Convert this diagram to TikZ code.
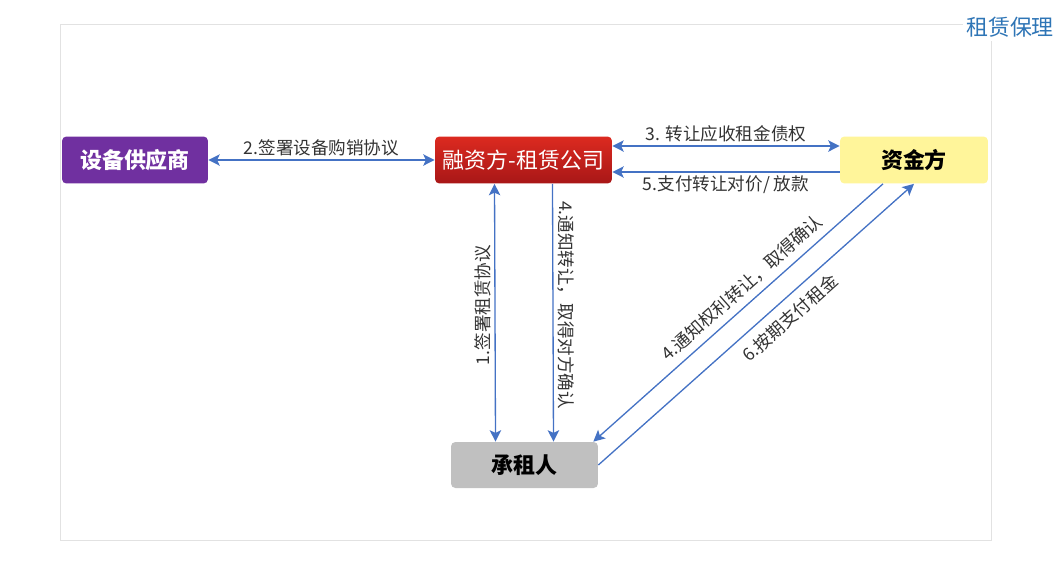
\documentclass[tikz,border=0pt]{standalone}
\usepackage{fontspec}
\setmainfont{Noto Sans CJK SC}
\usetikzlibrary{arrows.meta}

\definecolor{supplierfill}{HTML}{7030A0}
\definecolor{lessortop}{HTML}{DC2A20}
\definecolor{lessorbottom}{HTML}{A81717}
\definecolor{fundfill}{HTML}{FFF59A}
\definecolor{lesseefill}{HTML}{C0C0C0}
\definecolor{linkblue}{HTML}{4472C4}
\definecolor{titleblue}{HTML}{2E75B6}
\definecolor{framegray}{HTML}{E2E2E2}

\tikzset{
  >={Stealth[length=6.5pt,width=6.5pt,inset=1.5pt]},
  box/.style={rounded corners=2.5pt, inner sep=0pt, minimum height=0.94cm,
    font=\fontsize{12.5}{14}\selectfont},
  link/.style={draw=linkblue, line width=0.75pt, ->},
  lbl/.style={font=\fontsize{10}{12}\selectfont, text=black!80, inner sep=2pt}
}

\begin{document}
\begin{tikzpicture}[x=0.02cm, y=-0.02cm]
\useasboundingbox (0,0) rectangle (1059,565);
% frame and title
\draw[framegray, line width=0.5pt] (60,24) rectangle (991,540);
\node[fill=white, text=titleblue, inner sep=2pt, font=\fontsize{12.5}{14}\selectfont] (title) at (1010,27) {租赁保理};

% parties
\node[box, fill=supplierfill, text=white, minimum width=2.92cm, font=\fontsize{12.5}{14}\selectfont\bfseries] (supplier) at (135,160) {设备供应商};
\node[box, top color=lessortop, bottom color=lessorbottom, text=white, minimum width=3.54cm] (lessor) at (523.5,160) {融资方-租赁公司};
\node[box, fill=fundfill, minimum width=2.96cm, font=\fontsize{12.5}{14}\selectfont\bfseries] (fund) at (914,160) {资金方};
\node[box, fill=lesseefill, minimum width=2.94cm, minimum height=0.92cm, font=\fontsize{12.5}{14}\selectfont\bfseries] (lessee) at (524.5,465) {承租人};

% horizontal flows
\draw[link, <->] (supplier) -- node[lbl, above] {2.签署设备购销协议} (lessor);
\draw[link, <->] ([yshift=0.28cm]lessor.east) -- node[lbl, above] {3. 转让应收租金债权} ([yshift=0.28cm]fund.west);
\draw[link] ([yshift=-0.24cm]fund.west) -- node[lbl, below] {5.支付转让对价/ 放款} ([yshift=-0.24cm]lessor.east);

% vertical flows
\draw[link, <->] ([xshift=-0.58cm]lessor.south) -- node[lbl, rotate=90, anchor=south, pos=0.47] {1.签署租赁协议} ([xshift=-0.58cm]lessee.north);
\draw[link] ([xshift=0.58cm]lessor.south) -- node[lbl, rotate=-90, anchor=south, pos=0.47] {4.通知转让，取得对方确认} ([xshift=0.58cm]lessee.north);

% diagonal flows
\coordinate (f4) at ([xshift=-0.62cm]fund.south);
\draw[link, <-] ([xshift=-0.1cm]lessee.north east) -- node[lbl, sloped, above=2pt, pos=0.55] {4.通知权利转让，取得确认} (f4);
\draw[link] (lessee.east) -- node[lbl, sloped, below=3pt, pos=0.57] {6.按期支付租金} (fund.south);
\end{tikzpicture}
\end{document}
